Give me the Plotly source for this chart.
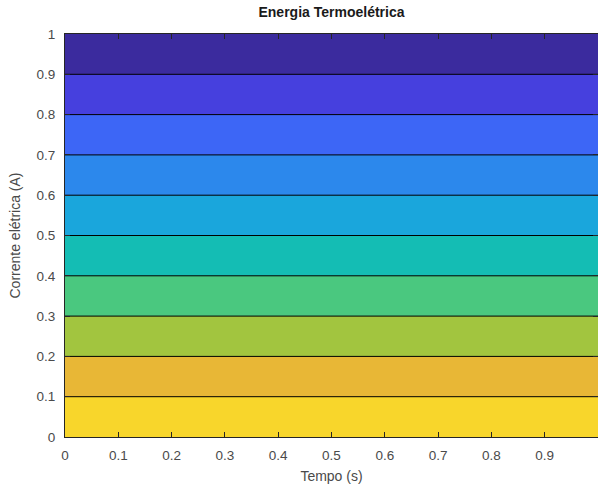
import plotly.graph_objects as go

# Data
tempo = [0.0, 1.0]                 # Tempo (s)
corrente = [0.0, 1.0]              # Corrente elétrica (A)
energia = [[0.0, 0.0], [10.0, 10.0]]  # level index at each grid point
band_colors = ["#f8d62b", "#e8b736", "#a2c53f", "#4ac87f", "#14bdb4",
               "#1aa6dc", "#2c88ec", "#3d66f6", "#4640de", "#3b2b9e"]
tick_vals = [0, 0.1, 0.2, 0.3, 0.4, 0.5, 0.6, 0.7, 0.8, 0.9, 1]
tick_text = ["0", "0.1", "0.2", "0.3", "0.4", "0.5", "0.6", "0.7", "0.8", "0.9", "1"]

n = len(band_colors)
cs = []
for i, c in enumerate(band_colors):
    cs.append([i / n, c])
    cs.append([(i + 1) / n, c])

fig = go.Figure(go.Contour(
    x=tempo, y=corrente, z=energia,
    zmin=0, zmax=10, colorscale=cs, showscale=False,
    contours=dict(start=1, end=9, size=1, coloring="fill"),
    line=dict(color="black", width=1),
    hoverinfo="skip",
))

font_col = "#4a4a4a"
fig.update_layout(
    width=598, height=486,
    margin=dict(l=65, r=0, t=34, b=49),
    paper_bgcolor="white", plot_bgcolor="white",
    font=dict(family="Liberation Sans, Arial, sans-serif", size=13.5, color=font_col),
    title=dict(text="<b>Energia Termoelétrica</b>", x=(65 + 598) / 2 / 598, xanchor="center",
               y=1 - 12 / 486, yanchor="middle", font=dict(size=14, color="#1a1a1a")),
)
fig.update_xaxes(range=[0, 1], tickvals=tick_vals, ticktext=tick_text,
                 ticks="inside", ticklen=5, tickcolor="#262626", ticklabelstandoff=6,
                 showline=True, linecolor="#262626", linewidth=1, mirror="ticks",
                 showgrid=False, zeroline=False,
                 title=dict(text="Tempo (s)", standoff=8, font=dict(size=14)))
fig.update_yaxes(range=[0, 1], tickvals=tick_vals, ticktext=tick_text,
                 ticks="inside", ticklen=5, tickcolor="#262626", ticklabelstandoff=6,
                 showline=True, linecolor="#262626", linewidth=1, mirror="ticks",
                 showgrid=False, zeroline=False,
                 title=dict(text="Corrente elétrica (A)", standoff=12, font=dict(size=14)))

fig.write_html("out.html")
